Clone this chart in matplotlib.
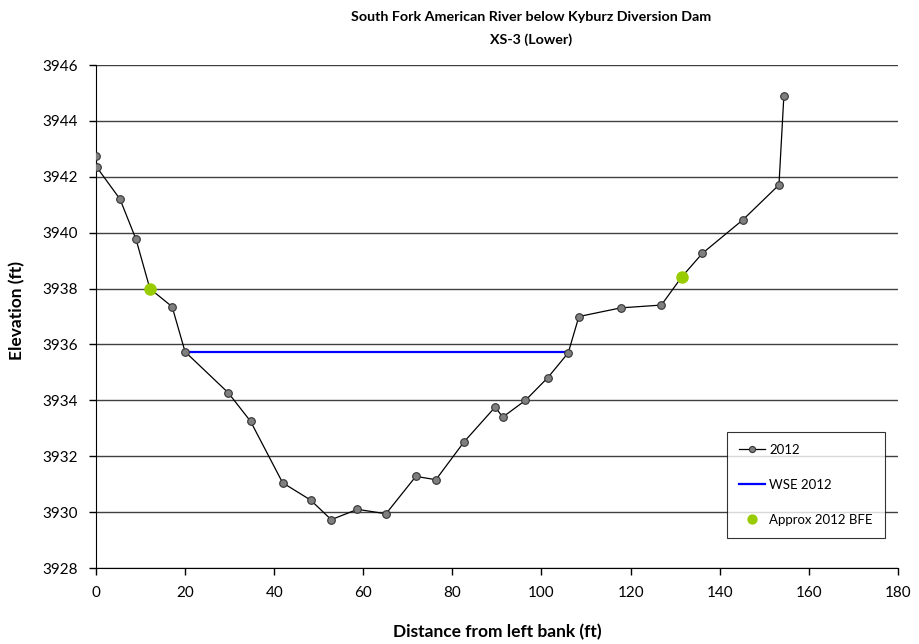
import matplotlib.pyplot as plt

plt.rcParams['font.family'] = ['Lato', 'DejaVu Sans']

# Surveyed cross-section points, 2012 (bankfull points included on the line).
station_ft = [0.0, 0.2, 5.4, 9.0, 12.1, 17.1, 20.0, 29.7, 34.7, 41.9, 48.2, 52.8,
              58.7, 65.1, 71.8, 76.3, 82.6, 89.6, 91.3, 96.4, 101.4, 106.0, 108.4,
              117.8, 126.9, 131.5, 136.1, 145.2, 153.3, 154.4]
elev_ft = [3942.75, 3942.34, 3941.20, 3939.76, 3938.00, 3937.35, 3935.74, 3934.27,
           3933.25, 3931.05, 3930.43, 3929.73, 3930.10, 3929.94, 3931.28, 3931.16,
           3932.51, 3933.76, 3933.40, 3934.00, 3934.81, 3935.70, 3937.00, 3937.31,
           3937.41, 3938.42, 3939.26, 3940.46, 3941.71, 3944.89]

# Water surface elevation 2012.
wse_station = [20.0, 106.0]
wse_elev = [3935.72, 3935.72]

# Approximate bankfull elevation points.
bfe_station = [12.1, 131.5]
bfe_elev = [3938.0, 3938.42]

fig = plt.figure(figsize=(9.2, 6.44), dpi=100)
ax = fig.add_axes([0.1043, 0.118, 0.8717, 0.781])

ax.plot(station_ft, elev_ft, color='black', lw=0.9, marker='o', ms=5.5,
        mfc='#7f7f7f', mec='#333333', mew=0.8, label='2012', zorder=3)
ax.plot(wse_station, wse_elev, color='#0000ff', lw=1.6, label='WSE 2012', zorder=2)
ax.plot(bfe_station, bfe_elev, ls='none', marker='o', ms=8, color='#99cc00',
        label='Approx 2012 BFE', zorder=4)

ax.set_xlim(0, 180)
ax.set_ylim(3928, 3946)
ax.set_xticks(range(0, 181, 20))
ax.set_yticks(range(3928, 3947, 2))
ax.yaxis.grid(True, color='#404040', lw=1.0)
ax.set_axisbelow(True)
for side in ['top', 'right']:
    ax.spines[side].set_visible(False)
ax.spines['left'].set_color('black')
ax.spines['bottom'].set_color('black')
ax.tick_params(direction='out', length=5, width=1, labelsize=11, colors='black', pad=8)

ax.set_xlabel('Distance from left bank (ft)', fontsize=12.5, fontweight='bold')
ax.xaxis.set_label_coords(497 / 920, 1 - 632 / 644, transform=fig.transFigure)
ax.set_ylabel('Elevation (ft)', fontsize=12.5, fontweight='bold')
ax.yaxis.set_label_coords(17 / 920, 1 - 310 / 644, transform=fig.transFigure)
ax.xaxis.label.set_va('center')
ax.yaxis.label.set_va('center')

fig.text(531 / 920, 1 - 17 / 644, 'South Fork American River below Kyburz Diversion Dam',
         ha='center', va='center', fontsize=10.3, fontweight='bold')
fig.text(531 / 920, 1 - 40 / 644, 'XS-3 (Lower)',
         ha='center', va='center', fontsize=10.3, fontweight='bold')

leg = ax.legend(loc='upper left', bbox_to_anchor=(727 / 920, 1 - 432 / 644),
                bbox_transform=fig.transFigure, frameon=True, fancybox=False,
                edgecolor='black', fontsize=9.5, labelspacing=1.75, borderaxespad=0,
                handlelength=2.0, handletextpad=0.3, borderpad=0.9, markerscale=0.8)
leg.get_frame().set_linewidth(0.8)

fig.savefig('out.png', dpi=100)
